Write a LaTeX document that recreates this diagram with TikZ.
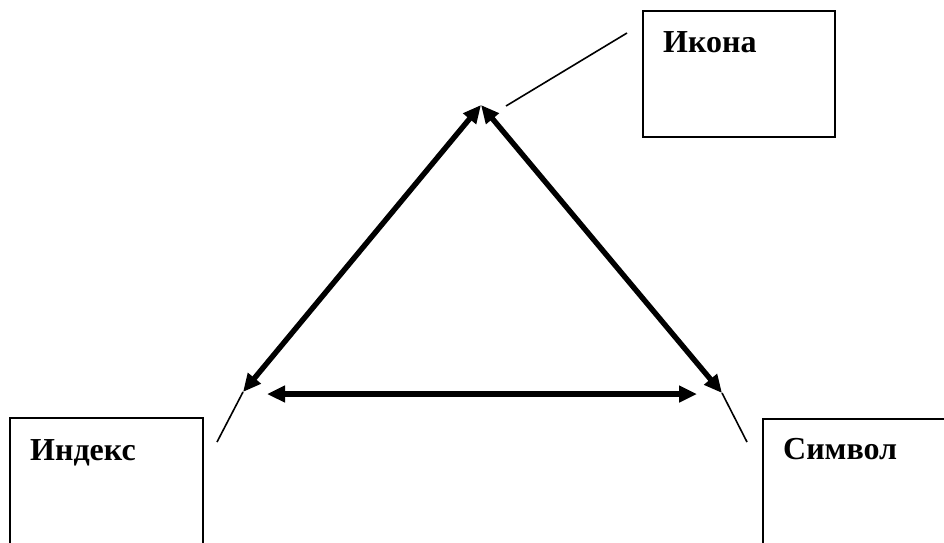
\documentclass[tikz,border=0pt]{standalone}
\usepackage{fontspec}
\setmainfont{Liberation Serif}
\usetikzlibrary{arrows.meta}
\begin{document}
\begin{tikzpicture}[x=1pt,y=-1pt,
  box/.style={draw, line width=2pt, inner sep=0pt, anchor=north west},
  lbl/.style={font=\fontsize{32}{38}\selectfont\bfseries, anchor=base west, inner sep=0pt},
  bigarrow/.style={line width=5.4pt, {Triangle[length=18pt,width=16pt]}-{Triangle[length=18pt,width=16pt]}},
  pointer/.style={line width=1.6pt}]
\useasboundingbox (0,0) rectangle (944,542);
\clip (0,0) rectangle (944,542);
% boxes
\node[box, minimum width=192pt, minimum height=126pt] (ikona) at (642,10) {};
\node[box, minimum width=193pt, minimum height=200pt] (index) at (9,417) {};
\node[box, minimum width=260pt, minimum height=200pt] (simvol) at (762,418) {};
% labels
\node[lbl] (tikona) at (663,52) {Икона};
\node[lbl] (tindex) at (30,460) {Индекс};
\node[lbl] (tsimvol) at (783,459) {Символ};
% triangle vertices
\coordinate (apex) at (481,105);
\coordinate (bl) at (243,392);
\coordinate (br) at (722,393);
\coordinate (hl) at (267,394);
\coordinate (hr) at (697,394);
% pointer ends
\coordinate (pa1) at (506,106);
\coordinate (pa2) at (627,33);
\coordinate (pl) at (217,442);
\coordinate (pr) at (747,442);
% arrows
\draw[bigarrow] (apex) -- (bl);
\draw[bigarrow] (apex) -- (br);
\draw[bigarrow] (hl) -- (hr);
% pointers
\draw[pointer] (pa1) -- (pa2);
\draw[pointer] (bl) -- (pl);
\draw[pointer] (br) -- (pr);
\end{tikzpicture}
\end{document}
